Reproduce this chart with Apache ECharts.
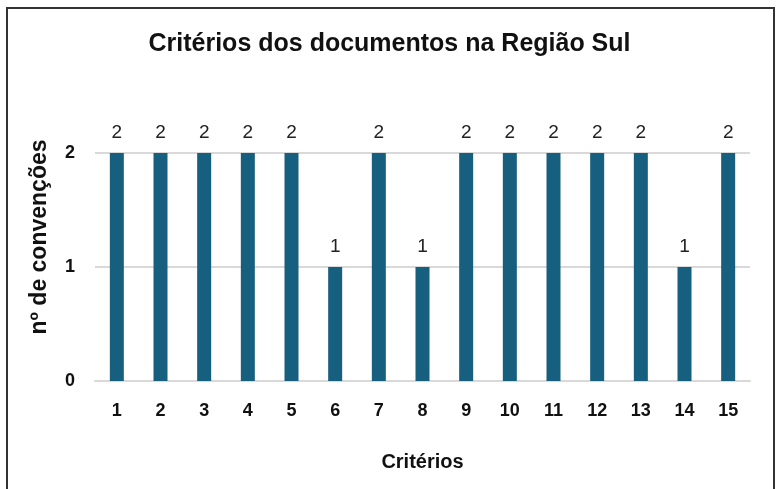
<!DOCTYPE html>
<html lang="pt">
  <head>
    <meta charset="UTF-8" />
    <title>Critérios dos documentos na Região Sul</title>
    <script src="https://cdn.jsdelivr.net/npm/echarts@6/dist/echarts.min.js"></script>
    <style>
      body { margin: 0; background: #fff; }
    </style>
  </head>
  <body>
    <div id="main" style="width: 779px; height: 489px"></div>
    <script type="text/javascript">
      // dados
      const criterios = ["1", "2", "3", "4", "5", "6", "7", "8", "9", "10", "11", "12", "13", "14", "15"];
      const convencoes = [2, 2, 2, 2, 2, 1, 2, 1, 2, 2, 2, 2, 2, 1, 2];

      const font = "'Liberation Sans Narrow', 'Liberation Sans', Arial, sans-serif";
      const labelFont = "'Liberation Sans', Arial, sans-serif";

      let myChart = echarts.init(document.getElementById("main"));
      let options = {
        animation: false,
        title: {
          text: "Critérios dos documentos na Região Sul",
          left: "center",
          top: 27,
          textStyle: { fontFamily: font, fontWeight: "bold", fontSize: 25, color: "#111" },
        },
        graphic: [
          {
            type: "rect",
            shape: { x: 7, y: 8, width: 767, height: 500 },
            style: { fill: "none", stroke: "#333", lineWidth: 2 },
          },
        ],
        grid: { left: 95, right: 29, top: 153, bottom: 108 },
        xAxis: {
          type: "category",
          data: criterios,
          name: "Critérios",
          nameLocation: "middle",
          nameGap: 71,
          nameTextStyle: { fontFamily: labelFont, fontWeight: "bold", fontSize: 20, color: "#111" },
          axisLine: { lineStyle: { color: "#d9d9d9", width: 2 } },
          axisTick: { show: false },
          axisLabel: { fontFamily: labelFont, fontWeight: "bold", fontSize: 18, color: "#111", margin: 21 },
        },
        yAxis: {
          type: "value",
          min: 0,
          max: 2,
          interval: 1,
          name: "nº de convenções",
          nameLocation: "middle",
          nameGap: 44,
          nameTextStyle: {
            fontFamily: labelFont,
            fontWeight: "bold",
            fontSize: 23,
            color: "#111",
            padding: [0, 0, 0, 60],
          },
          axisLine: { show: false },
          axisTick: { show: false },
          axisLabel: { fontFamily: labelFont, fontWeight: "bold", fontSize: 18, color: "#111", margin: 20 },
          splitLine: { lineStyle: { color: "#d9d9d9", width: 2 } },
        },
        series: [
          {
            name: "nº de convenções",
            type: "bar",
            data: convencoes,
            barWidth: 14,
            itemStyle: { color: "#175f7f" },
            label: {
              show: true,
              position: "top",
              distance: 11,
              fontFamily: labelFont,
              fontSize: 19,
              color: "#222",
            },
          },
        ],
      };
      myChart.setOption(options);
    </script>
  </body>
</html>
